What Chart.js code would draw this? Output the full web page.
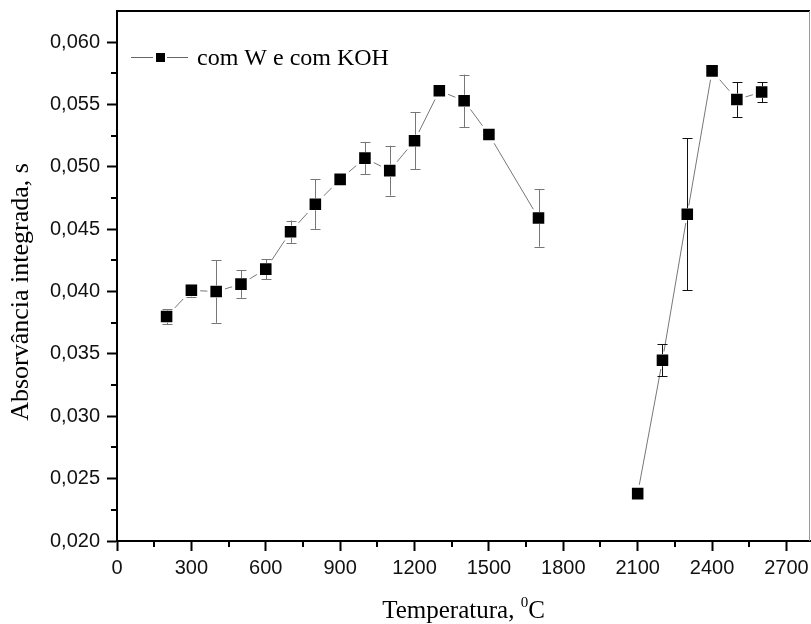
<!DOCTYPE html>
<html>
<head>
<meta charset="utf-8">
<script src="https://cdn.jsdelivr.net/npm/chart.js"></script>
<style>
  html, body { margin: 0; padding: 0; background: #fff; }
  #wrap { width: 811px; height: 624px; }
</style>
</head>
<body>
<div id="wrap"><canvas id="chart" width="811" height="624"></canvas></div>
<script>
// temperatura (°C) e absorvância integrada (s), com desvio padrão
const tempA = [200, 300, 400, 500, 600, 700, 800, 900, 1000, 1100, 1200, 1300, 1400, 1500, 1700];
const absA = [0.0380, 0.0401, 0.0400, 0.0406, 0.0418, 0.0448, 0.0470, 0.0490, 0.0507, 0.0497, 0.0521, 0.0561, 0.0553, 0.0526, 0.0459];
const errA = [0.0006, 0.0005, 0.0025, 0.0011, 0.0008, 0.0009, 0.0020, 0, 0.0013, 0.0020, 0.0023, 0, 0.0021, 0, 0.0023];

const tempB = [2100, 2200, 2300, 2400, 2500, 2600];
const absB = [0.0238, 0.0345, 0.0462, 0.0577, 0.0554, 0.0560];
const errB = [0, 0.0013, 0.0061, 0, 0.0014, 0.0008];

const seriesLabel = 'com W e com KOH';
const xTitle = ['Temperatura, ', '0', 'C'];
const yTitle = 'Absorvância integrada, s';

const xTicks = { min: 0, max: 2795, step: 300 };
const yTicks = { min: 0.020, max: 0.0625, step: 0.005 };

function points(xs, ys) {
    return xs.map((x, i) => ({ x: x, y: ys[i] }));
}

const serif = '"Liberation Serif", "Times New Roman", serif';
const sans = '"Liberation Sans", Arial, sans-serif';

// error bars, minor ticks, frame, legend and axis titles
const extras = {
    id: 'extras',
    afterDatasetsDraw(chart) {
        const ctx = chart.ctx;
        const xs = chart.scales.x, ys = chart.scales.y;
        chart.data.datasets.forEach((ds) => {
            ctx.save();
            ctx.strokeStyle = ds.errorColor;
            ctx.lineWidth = 1;
            ds.data.forEach((p, i) => {
                const e = ds.errors[i];
                if (!e) return;
                const px = Math.round(xs.getPixelForValue(p.x)) + 0.5;
                const py = ys.getPixelForValue(p.y);
                const top = ys.getPixelForValue(p.y + e);
                const bot = ys.getPixelForValue(p.y - e);
                ctx.beginPath();
                if (top < py - 6) { ctx.moveTo(px, top); ctx.lineTo(px, py - 6); }
                if (bot > py + 6) { ctx.moveTo(px, py + 6); ctx.lineTo(px, bot); }
                ctx.moveTo(px - 5, Math.round(top) + 0.5); ctx.lineTo(px + 5, Math.round(top) + 0.5);
                ctx.moveTo(px - 5, Math.round(bot) + 0.5); ctx.lineTo(px + 5, Math.round(bot) + 0.5);
                ctx.stroke();
            });
            ctx.restore();
        });
    },
    afterDraw(chart) {
        const ctx = chart.ctx;
        const area = chart.chartArea;
        const xs = chart.scales.x, ys = chart.scales.y;
        ctx.save();

        // minor ticks halfway between the labelled ones
        ctx.strokeStyle = '#000';
        ctx.lineWidth = 2;
        ctx.beginPath();
        for (let v = xTicks.min + xTicks.step / 2; v < xTicks.max; v += xTicks.step) {
            const px = Math.round(xs.getPixelForValue(v));
            ctx.moveTo(px, area.bottom);
            ctx.lineTo(px, area.bottom + 6);
        }
        for (let v = yTicks.min + yTicks.step / 2; v < yTicks.max - 1e-6; v += yTicks.step) {
            const py = Math.round(ys.getPixelForValue(v));
            ctx.moveTo(area.left, py);
            ctx.lineTo(area.left - 6, py);
        }
        ctx.stroke();

        // top and right edges of the frame
        ctx.beginPath();
        ctx.moveTo(area.left, area.top);
        ctx.lineTo(area.right, area.top);
        ctx.stroke();
        ctx.strokeStyle = '#999';
        ctx.lineWidth = 1;
        ctx.beginPath();
        ctx.moveTo(area.right - 0.5, area.top);
        ctx.lineTo(area.right - 0.5, area.bottom);
        ctx.stroke();

        // legend
        const ly = 57;
        ctx.strokeStyle = '#666';
        ctx.lineWidth = 1;
        ctx.beginPath();
        ctx.moveTo(131, ly + 0.5);
        ctx.lineTo(188, ly + 0.5);
        ctx.stroke();
        ctx.fillStyle = '#fff';
        ctx.fillRect(153, ly - 6, 14, 13);
        ctx.fillStyle = '#000';
        ctx.fillRect(156, ly - 4, 9, 9);
        ctx.font = '24px ' + serif;
        ctx.textBaseline = 'alphabetic';
        ctx.textAlign = 'left';
        ctx.fillText(seriesLabel, 197, 65);

        // x title with the raised zero
        const big = '25px ' + serif, small = '15px ' + serif;
        ctx.font = big;
        const w0 = ctx.measureText(xTitle[0]).width;
        const w2 = ctx.measureText(xTitle[2]).width;
        ctx.font = small;
        const w1 = ctx.measureText(xTitle[1]).width;
        let tx = (area.left + area.right) / 2 - (w0 + w1 + w2) / 2;
        const ty = 618;
        ctx.font = big;
        ctx.fillText(xTitle[0], tx, ty);
        tx += w0;
        ctx.font = small;
        ctx.fillText(xTitle[1], tx, ty - 11);
        tx += w1;
        ctx.font = big;
        ctx.fillText(xTitle[2], tx, ty);

        // y title, rotated
        ctx.translate(28, 292);
        ctx.rotate(-Math.PI / 2);
        ctx.font = '26px ' + serif;
        ctx.textAlign = 'center';
        ctx.fillText(yTitle, 0, 0);
        ctx.restore();
    }
};

function makeDataset(xs, ys, errs, errColor) {
    return {
        label: seriesLabel,
        data: points(xs, ys),
        errors: errs,
        errorColor: errColor,
        borderColor: '#777',
        borderWidth: 1,
        pointStyle: 'rect',
        pointRadius: 10.3,
        pointHoverRadius: 10.3,
        pointBackgroundColor: '#000',
        pointBorderColor: '#fff',
        pointBorderWidth: 3,
        showLine: true,
        tension: 0
    };
}

// the plot box is fixed: no extra room for the outer tick labels
function fixBox(size) {
    return (s) => {
        if (s.isHorizontal()) s.height = size; else s.width = size;
        s.paddingTop = 0;
        s.paddingBottom = 0;
        s.paddingLeft = 0;
        s.paddingRight = 0;
    };
}

new Chart(document.getElementById('chart'), {
    type: 'scatter',
    data: {
        datasets: [
            makeDataset(tempA, absA, errA, '#777'),
            makeDataset(tempB, absB, errB, '#111')
        ]
    },
    options: {
        responsive: false,
        animation: false,
        layout: { autoPadding: false, padding: { top: 11, right: 1, left: 0, bottom: 0 } },
        plugins: {
            legend: { display: false },
            tooltip: { enabled: false }
        },
        scales: {
            x: {
                type: 'linear',
                min: xTicks.min,
                max: xTicks.max,
                afterFit: fixBox(83),
                border: { display: true, color: '#000', width: 2 },
                grid: { drawOnChartArea: false, drawTicks: true, tickLength: 10, tickWidth: 2, tickColor: '#000' },
                ticks: {
                    stepSize: xTicks.step,
                    includeBounds: false,
                    maxRotation: 0,
                    padding: 5,
                    color: '#111',
                    font: { family: sans, size: 20 },
                    callback: (v) => String(v)
                }
            },
            y: {
                type: 'linear',
                min: yTicks.min,
                max: yTicks.max,
                afterFit: fixBox(117),
                border: { display: true, color: '#000', width: 2 },
                grid: { drawOnChartArea: false, drawTicks: true, tickLength: 10, tickWidth: 2, tickColor: '#000' },
                ticks: {
                    stepSize: yTicks.step,
                    includeBounds: false,
                    padding: 7,
                    color: '#111',
                    font: { family: sans, size: 20 },
                    callback: (v) => v.toFixed(3).replace('.', ',')
                }
            }
        }
    },
    plugins: [extras]
});
</script>
</body>
</html>
